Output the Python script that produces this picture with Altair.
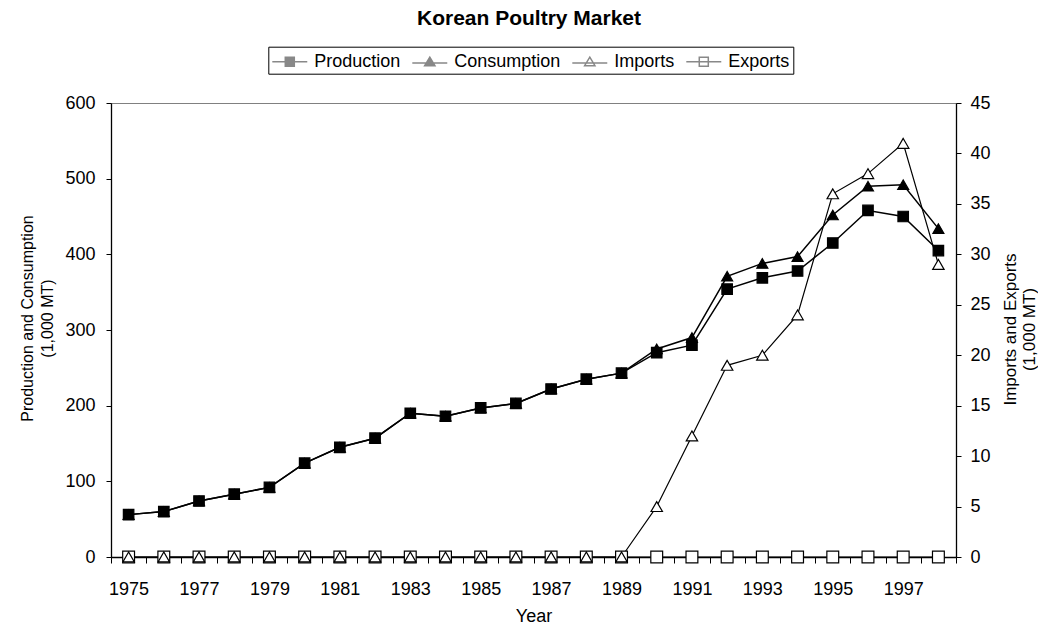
import altair as alt
import pandas as pd

years = [1975, 1976, 1977, 1978, 1979, 1980, 1981, 1982, 1983, 1984, 1985, 1986,
         1987, 1988, 1989, 1990, 1991, 1992, 1993, 1994, 1995, 1996, 1997, 1998]
production = [56, 60, 74, 83, 92, 124, 145, 157, 190, 186, 197, 203,
              222, 235, 243, 270, 280, 354, 369, 378, 415, 458, 450, 405]
consumption = [56, 60, 74, 83, 92, 124, 145, 157, 190, 186, 197, 203,
               222, 235, 243, 275, 290, 371, 388, 397, 452, 490, 492, 434]
imports = [0, 0, 0, 0, 0, 0, 0, 0, 0, 0, 0, 0,
           0, 0, 0, 5, 12, 19, 20, 24, 36, 38, 41, 29]
exports = [0, 0, 0, 0, 0, 0, 0, 0, 0, 0, 0, 0,
           0, 0, 0, 0, 0, 0, 0, 0, 0, 0, 0, 0]

series_names = ["Production", "Consumption", "Imports", "Exports"]
left_ticks = [0, 100, 200, 300, 400, 500, 600]
right_ticks = [0, 5, 10, 15, 20, 25, 30, 35, 40, 45]

rows = []
for name, vals in [("Exports", exports), ("Imports", imports),
                   ("Consumption", consumption), ("Production", production)]:
    for y, v in zip(years, vals):
        rows.append({"year": y, "series": name, "value": v})
df = pd.DataFrame(rows)

FONT = "Liberation Sans"

x_axis = alt.Axis(
    title="Year", values=[y - 0.5 for y in years] + [years[-1] + 0.5],
    labelExpr="((datum.value + 0.5) % 2 == 1 && datum.value < 1998) ? toString(datum.value + 0.5) : ''",
    labelOffset=17.6, tickSize=6, labelPadding=17.7, labelFontSize=18,
    labelFlush=False, labelOverlap=False, labelBound=False,
    titleFontSize=18, titleY=50, titleBaseline="top", grid=False,
)
x_enc = alt.X("year:Q", scale=alt.Scale(domain=[1974.5, 1998.5], nice=False, zero=False), axis=x_axis)

shape_scale = alt.Scale(domain=series_names, range=["square", "triangle-up", "triangle-up", "square"])
fill_scale = alt.Scale(domain=series_names, range=["black", "black", "white", "white"])
size_scale = alt.Scale(domain=series_names, range=[110, 140, 140, 100])
stroke_scale = alt.Scale(domain=series_names, range=["black", "black", "black", "black"])

y_left = alt.Y(
    "value:Q", scale=alt.Scale(domain=[0, 600], nice=False),
    axis=alt.Axis(orient="left", values=left_ticks, grid=False,
                  title=["Production and Consumption", "(1,000 MT)"],
                  titleFontSize=16, titleAngle=270, titleX=-92, titleY=215,
                  titleBaseline="top", titleAlign="center", titleLineHeight=20,
                  labelFontSize=18, labelPadding=11, tickSize=5),
)
y_right = alt.Y(
    "value:Q", scale=alt.Scale(domain=[0, 45], nice=False),
    axis=alt.Axis(orient="right", values=right_ticks, grid=False,
                  title=["Imports and Exports", "(1,000 MT)"],
                  titleFontSize=17, titleAngle=270, titleX=46, titleY=226,
                  titleBaseline="top", titleAlign="center", titleLineHeight=19,
                  labelFontSize=18, labelPadding=9, tickSize=5),
)

base = alt.Chart(df)

def point_enc():
    return dict(
        shape=alt.Shape("series:N", scale=shape_scale, legend=None),
        fill=alt.Fill("series:N", scale=fill_scale, legend=None),
        size=alt.Size("series:N", scale=size_scale, legend=None),
    )

left_lines = base.transform_filter(
    alt.FieldOneOfPredicate(field="series", oneOf=["Consumption", "Production"])
).mark_line(color="black", strokeWidth=1.5).encode(x=x_enc, y=y_left, detail="series:N")
left_points = base.transform_filter(
    alt.FieldOneOfPredicate(field="series", oneOf=["Consumption", "Production"])
).mark_point(filled=True, stroke="black", strokeWidth=1.2, opacity=1).encode(
    x=x_enc, y=y_left, **point_enc())
left = alt.layer(left_lines, left_points)

right_lines = base.transform_filter(
    alt.FieldOneOfPredicate(field="series", oneOf=["Exports", "Imports"])
).mark_line(color="black", strokeWidth=1.2).encode(x=x_enc, y=y_right, detail="series:N")
right_points = base.transform_filter(
    alt.FieldOneOfPredicate(field="series", oneOf=["Exports", "Imports"])
).mark_point(filled=True, stroke="black", strokeWidth=1.2, opacity=1).encode(
    x=x_enc, y=y_right, **point_enc())
right = alt.layer(right_lines, right_points)

# legend symbols: a line with the marker on it (stroke-only paths; solid
# markers are drawn as dense strokes so no fill is needed)
def f(v):
    return f"{v:.3f}"

cx = 0.59
hs = 0.41
sq_open = f"M-1,0H2.18M{f(cx-hs)},{f(-hs)}H{f(cx+hs)}V{f(hs)}H{f(cx-hs)}Z"
sq_solid = sq_open + "".join(
    f"M{f(cx-hs)},{f(-hs + i*0.082)}H{f(cx+hs)}" for i in range(11))
t_top, t_bot, t_hw = -0.42, 0.36, 0.47
tri_open = (f"M-1,0.12H2.18M{f(cx)},{f(t_top)}L{f(cx+t_hw)},{f(t_bot)}"
            f"H{f(cx-t_hw)}Z")
tri_solid = tri_open
for i in range(11):
    yy = t_top + (t_bot - t_top) * i / 10
    hw = t_hw * (yy - t_top) / (t_bot - t_top)
    tri_solid += f"M{f(cx-hw)},{f(yy)}H{f(cx+hw)}"
legend_paths = [sq_solid, tri_solid, tri_open, sq_open]

leg = alt.Legend(orient="none", legendX=157.3, legendY=-56.3, direction="horizontal",
                 title=None, strokeColor="black", padding=3, symbolSize=484,
                 symbolStrokeWidth=1.5, symbolOpacity=1, symbolFillColor="transparent",
                 labelFontSize=18, labelFont=FONT, labelColor="black",
                 labelOffset=19, columnPadding=8)
legend_layer = base.transform_filter("false").mark_point(
    filled=False, strokeWidth=1.5, opacity=1
).encode(
    shape=alt.Shape("series:N", scale=alt.Scale(domain=series_names, range=legend_paths), legend=leg),
    stroke=alt.Stroke("series:N", scale=stroke_scale, legend=leg),
)

chart = alt.layer(right, left, legend_layer).resolve_scale(
    y="independent", shape="independent", fill="independent"
).properties(
    width=845, height=454,
    padding={"left": 103, "top": 95, "right": 82, "bottom": 66},
    autosize=alt.AutoSizeParams(type="none"),
    title=alt.TitleParams(text="Korean Poultry Market", font=FONT, fontSize=21,
                          fontWeight="bold", anchor="middle", frame="group",
                          offset=17, dx=-4.5, color="black"),
).configure(font=FONT).configure_view(stroke="#808080", strokeWidth=1).configure_axis(
    domainColor="black", domainWidth=1.3, tickColor="black", tickWidth=1,
    labelColor="black", titleColor="black", labelFont=FONT, titleFont=FONT,
    titleFontWeight="normal",
)

chart.save("out.html", embed_options={"renderer": "svg", "actions": False})
